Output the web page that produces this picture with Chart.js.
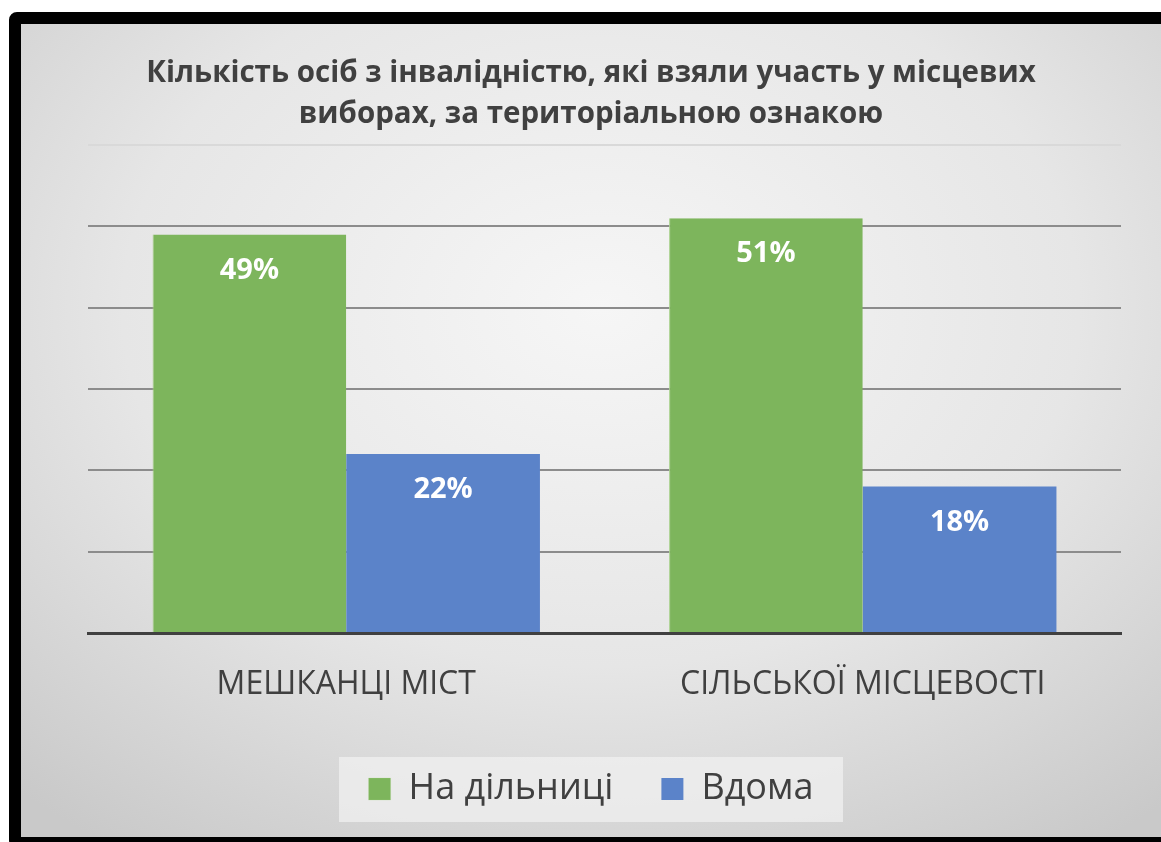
<!DOCTYPE html>
<html>
<head>
<meta charset="utf-8">
<script src="https://cdn.jsdelivr.net/npm/chart.js@4"></script>
<style>
    body { margin: 0; background: #fff; overflow: hidden; }
    #frame {
        position: absolute; left: 9px; top: 12px;
        width: 1160px; height: 813px;
        border: 12px solid #000; border-radius: 8px;
        background: radial-gradient(ellipse 75% 80% at 50% 35%, #f6f6f6 0%, #e6e6e6 55%, #c9c9c9 100%);
    }
    #wrap { position: absolute; left: 0; top: 0; width: 1140px; height: 813px; }
</style>
</head>
<body>
<div id="frame"><div id="wrap"><canvas id="chart"></canvas></div></div>
<script>
const categories = ['МЕШКАНЦІ МІСТ', 'СІЛЬСЬКОЇ МІСЦЕВОСТІ'];
const atStation = [49, 51];
const atHome = [22, 18];
const seriesNames = ['На дільниці', 'Вдома'];
const titleLines = ['Кількість осіб з інвалідністю, які взяли участь у місцевих', 'виборах, за територіальною ознакою'];

// підписи значень всередині стовпців
const valueLabels = {
    id: 'valueLabels',
    afterDatasetsDraw(chart) {
        const ctx = chart.ctx;
        ctx.save();
        ctx.fillStyle = '#ffffff';
        ctx.font = 'bold 29px "Open Sans"';
        ctx.textAlign = 'center';
        ctx.textBaseline = 'middle';
        chart.data.datasets.forEach((ds, i) => {
            chart.getDatasetMeta(i).data.forEach((bar, j) => {
                ctx.fillText(ds.data[j] + '%', bar.x, bar.y + 36);
            });
        });
        ctx.restore();
    }
};

// світлий фон під легендою
const legendBg = {
    id: 'legendBg',
    beforeDraw(chart) {
        const lg = chart.legend;
        const hb = lg.legendHitBoxes[0];
        if (!hb) return;
        const cy = hb.top + hb.height / 2;
        const ctx = chart.ctx;
        ctx.save();
        ctx.fillStyle = 'rgba(240,240,240,0.75)';
        const w = 504;
        const x = (lg.left + lg.right) / 2 - w / 2;
        ctx.fillRect(x, cy - 32, w, 65);
        ctx.restore();
    }
};

new Chart(document.getElementById('chart'), {
    type: 'bar',
    data: {
        labels: categories,
        datasets: [
            { label: seriesNames[0], data: atStation, backgroundColor: '#7db55c', borderColor: '#a9d18e', borderWidth: { left: 1 } },
            { label: seriesNames[1], data: atHome, backgroundColor: '#5b83c9', borderWidth: 0 }
        ]
    },
    options: {
        responsive: true,
        maintainAspectRatio: false,
        animation: false,
        layout: { padding: { left: 0, right: 0, top: 0, bottom: 20 } },
        datasets: { bar: { barPercentage: 1, categoryPercentage: 0.75 } },
        plugins: {
            title: {
                display: true,
                text: titleLines,
                color: '#404040',
                font: { family: 'Open Sans', size: 29.5, weight: 'bold', lineHeight: '41px' },
                padding: { top: 29, bottom: 10 }
            },
            legend: {
                position: 'bottom',
                labels: {
                    color: '#404040',
                    font: { family: 'Open Sans', size: 36 },
                    boxWidth: 22, boxHeight: 22,
                    padding: 48
                }
            },
            tooltip: { enabled: false }
        },
        scales: {
            x: {
                grid: { display: false },
                border: { color: '#404040', width: 3 },
                ticks: { color: '#404040', font: { family: 'Open Sans', size: 32 }, padding: 25 },
                afterFit(scale) { scale.height = 90; }
            },
            y: {
                min: 0, max: 60,
                ticks: { display: false, stepSize: 10 },
                border: { display: false },
                grid: { color: ctx => ctx.tick.value === 60 ? '#d9d9d9' : '#8c8c8c', lineWidth: 2, drawTicks: false },
                afterFit(scale) { scale.width = 67; }
            },
            yRight: {
                position: 'right',
                grid: { display: false },
                border: { display: false },
                ticks: { display: false },
                afterFit(scale) { scale.width = 40; }
            }
        }
    },
    plugins: [valueLabels, legendBg]
});
</script>
</body>
</html>
